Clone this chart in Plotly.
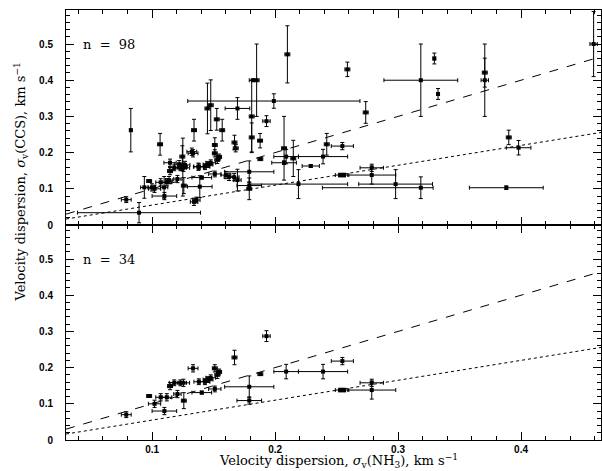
import plotly.graph_objects as go
from plotly.subplots import make_subplots

# ---- bottom-panel sample (n = 34), also shown in the top panel ----
b_x = [0.079, 0.0976, 0.102, 0.107, 0.110, 0.112, 0.1146, 0.118, 0.1206, 0.123,
       0.1255, 0.1258, 0.1333, 0.138, 0.1404, 0.143, 0.1455, 0.1477, 0.151, 0.151,
       0.153, 0.1545, 0.167, 0.179, 0.179, 0.193, 0.188, 0.209, 0.239, 0.2547,
       0.253, 0.256, 0.2786, 0.2786]
b_y = [0.070, 0.1215, 0.100, 0.118, 0.080, 0.118, 0.149, 0.158, 0.127, 0.158,
       0.158, 0.1087, 0.198, 0.161, 0.131, 0.161, 0.167, 0.172, 0.141, 0.198,
       0.180, 0.188, 0.228, 0.147, 0.109, 0.287, 0.182, 0.189, 0.189, 0.218,
       0.138, 0.138, 0.158, 0.138]
b_ex = [0.004, 0.002, 0.005, 0.004, 0.010, 0.004, 0.002, 0.004, 0.003, 0.005,
        0.005, 0.002, 0.004, 0.004, 0.008, 0.004, 0.004, 0.004, 0.005, 0.002,
        0.002, 0.002, 0.002, 0.020, 0.010, 0.003, 0.002, 0.010, 0.020, 0.009,
        0.004, 0.004, 0.0095, 0.0195]
b_ey = [0.008, 0.003, 0.010, 0.010, 0.010, 0.010, 0.010, 0.008, 0.010, 0.008,
        0.010, 0.022, 0.010, 0.008, 0.004, 0.008, 0.008, 0.008, 0.008, 0.010,
        0.010, 0.008, 0.020, 0.030, 0.010, 0.015, 0.003, 0.020, 0.020, 0.010,
        0.005, 0.005, 0.010, 0.025]

# ---- additional sources only in the top panel (total n = 98) ----
t_x = [0.0827, 0.0894, 0.0937, 0.0998, 0.1065, 0.1098, 0.1138, 0.1146, 0.122, 0.1246,
       0.125, 0.1268, 0.1246, 0.1323, 0.1341, 0.1341, 0.136, 0.1388, 0.1376, 0.145,
       0.1477, 0.1526, 0.151, 0.157, 0.160, 0.1626, 0.1667, 0.1694, 0.1694, 0.168,
       0.181, 0.181, 0.185, 0.182, 0.179, 0.1878, 0.199, 0.210, 0.2073, 0.2073,
       0.2148, 0.219, 0.229, 0.242, 0.2588, 0.2737, 0.298, 0.3185, 0.3185, 0.3295,
       0.3325, 0.3705, 0.3705, 0.388, 0.390, 0.398, 0.459]
t_y = [0.262, 0.034, 0.104, 0.104, 0.223, 0.104, 0.124, 0.172, 0.168, 0.161,
       0.160, 0.166, 0.189, 0.2025, 0.262, 0.064, 0.069, 0.106, 0.161, 0.322,
       0.331, 0.292, 0.221, 0.262, 0.138, 0.133, 0.132, 0.322, 0.124, 0.212,
       0.300, 0.242, 0.400, 0.400, 0.100, 0.233, 0.3425, 0.4715, 0.212, 0.172,
       0.184, 0.113, 0.163, 0.223, 0.430, 0.311, 0.113, 0.400, 0.103, 0.460,
       0.362, 0.421, 0.400, 0.103, 0.242, 0.2135, 0.500]
t_exm = [0.001, 0.050, 0.003, 0.003, 0.002, 0.003, 0.003, 0.005, 0.004, 0.004,
         0.002, 0.004, 0.002, 0.004, 0.002, 0.003, 0.003, 0.010, 0.004, 0.002,
         0.002, 0.002, 0.002, 0.002, 0.004, 0.004, 0.004, 0.010, 0.003, 0.002,
         0.002, 0.002, 0.002, 0.003, 0.002, 0.002, 0.070, 0.002, 0.002, 0.010,
         0.002, 0.040, 0.007, 0.002, 0.002, 0.002, 0.030, 0.030, 0.080, 0.001,
         0.001, 0.002, 0.003, 0.030, 0.002, 0.010, 0.003]
t_exp = [0.001, 0.050, 0.003, 0.003, 0.002, 0.003, 0.003, 0.005, 0.004, 0.004,
         0.002, 0.004, 0.002, 0.004, 0.002, 0.003, 0.003, 0.010, 0.004, 0.002,
         0.002, 0.002, 0.002, 0.002, 0.004, 0.004, 0.004, 0.010, 0.003, 0.002,
         0.002, 0.002, 0.002, 0.003, 0.002, 0.002, 0.070, 0.002, 0.002, 0.010,
         0.002, 0.040, 0.007, 0.002, 0.002, 0.002, 0.030, 0.030, 0.010, 0.001,
         0.001, 0.002, 0.003, 0.030, 0.002, 0.010, 0.003]
t_ey = [0.060, 0.028, 0.030, 0.010, 0.030, 0.030, 0.010, 0.010, 0.010, 0.010,
        0.080, 0.010, 0.030, 0.010, 0.030, 0.010, 0.008, 0.030, 0.010, 0.070,
        0.070, 0.030, 0.020, 0.030, 0.010, 0.010, 0.010, 0.030, 0.030, 0.010,
        0.100, 0.040, 0.100, 0.003, 0.030, 0.020, 0.020, 0.079, 0.088, 0.005,
        0.050, 0.040, 0.004, 0.030, 0.020, 0.030, 0.040, 0.100, 0.030, 0.015,
        0.015, 0.040, 0.100, 0.005, 0.020, 0.020, 0.090]

x_range = [0.03, 0.465]
y_range = [0.0, 0.594]
line_slopes = [1.0, 0.55]          # dashed: 1:1, dotted: lower relation
line_dashes = ["dash", "dot"]
panel_labels = ["n  =  98", "n  =  34"]

fig = make_subplots(rows=2, cols=1, shared_xaxes=True, vertical_spacing=0)

err_style = dict(type="data", color="black", thickness=1, width=2)
mk = dict(symbol="square", size=4, color="black")

fig.add_trace(go.Scatter(x=b_x, y=b_y, mode="markers", marker=mk,
                         error_x=dict(array=b_ex, **err_style),
                         error_y=dict(array=b_ey, **err_style),
                         showlegend=False), row=1, col=1)
fig.add_trace(go.Scatter(x=t_x, y=t_y, mode="markers", marker=mk,
                         error_x=dict(array=t_exp, arrayminus=t_exm, symmetric=False, **err_style),
                         error_y=dict(array=t_ey, **err_style),
                         showlegend=False), row=1, col=1)
fig.add_trace(go.Scatter(x=b_x, y=b_y, mode="markers", marker=mk,
                         error_x=dict(array=b_ex, **err_style),
                         error_y=dict(array=b_ey, **err_style),
                         showlegend=False), row=2, col=1)

for r in (1, 2):
    for s, d in zip(line_slopes, line_dashes):
        fig.add_trace(go.Scatter(x=x_range, y=[s * v for v in x_range], mode="lines",
                                 line=dict(color="black", width=1, dash=d),
                                 showlegend=False, hoverinfo="skip"), row=r, col=1)

axis_common = dict(showline=True, linecolor="black", linewidth=1, mirror="allticks",
                   ticks="inside", ticklen=8, tickwidth=1, tickcolor="black",
                   minor=dict(ticks="inside", ticklen=4, dtick=0.02, tick0=0,
                              tickcolor="black", tickwidth=1),
                   showgrid=False, zeroline=False, tick0=0, dtick=0.1,
                   tickfont=dict(family="Liberation Sans", size=10, color="black", weight="bold"))

fig.update_xaxes(range=x_range, **axis_common)
fig.update_xaxes(showticklabels=False, row=1, col=1)
fig.update_xaxes(ticklabelstandoff=0, row=2, col=1)
fig.update_yaxes(range=y_range, ticklabelstandoff=10, **axis_common)

for i, lab in enumerate(panel_labels):
    fig.add_annotation(x=0.042, y=0.5, xref="x" if i == 0 else "x2",
                       yref="y" if i == 0 else "y2", text=lab, showarrow=False,
                       xanchor="left", yanchor="middle",
                       font=dict(family="DejaVu Serif", size=13, color="black"))

fig.add_annotation(x=0.51, y=-0.049, xref="paper", yref="paper",
                   text="Velocity dispersion, <i>σ</i><sub>v</sub>(NH<sub>3</sub>), km s<sup>−1</sup>",
                   showarrow=False, xanchor="center", yanchor="middle",
                   font=dict(family="DejaVu Serif", size=13, color="black"))
fig.add_annotation(x=-0.085, y=0.6, xref="paper", yref="paper", textangle=-90,
                   text="Velocity dispersion, <i>σ</i><sub>v</sub>(CCS), km s<sup>−1</sup>",
                   showarrow=False, xanchor="center", yanchor="middle",
                   font=dict(family="DejaVu Serif", size=13, color="black"))

fig.update_layout(width=602, height=471, margin=dict(l=66, r=1, t=10, b=31),
                  paper_bgcolor="white", plot_bgcolor="white", showlegend=False)

fig.write_html("out.html")
